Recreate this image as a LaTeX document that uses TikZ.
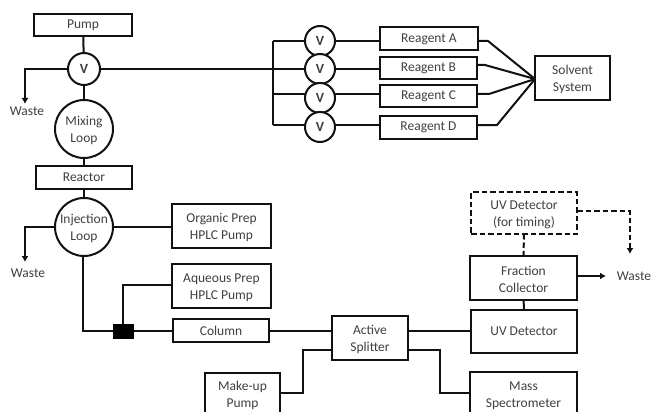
\documentclass[tikz,border=0pt]{standalone}
\usepackage{fontspec}
\setmainfont{Carlito}
\usetikzlibrary{arrows.meta,backgrounds}
\definecolor{ink}{HTML}{111111}
\definecolor{txt}{HTML}{404040}
\tikzset{
  base/.style={draw=ink,line width=2pt,fill=white,inner sep=0pt,outer sep=0pt,text=txt,align=center,font=\fontsize{13.5}{17}\selectfont},
  box/.style={base,rectangle},
  dbox/.style={base,rectangle,dash pattern=on 5.5pt off 3pt},
  valve/.style={base,circle,minimum size=30pt,font=\fontsize{14}{17}\selectfont\bfseries},
  loopc/.style={base,circle,minimum size=58pt},
  lbl/.style={text=txt,inner sep=0pt,font=\fontsize{13.5}{17}\selectfont},
  tx/.style={label={[lbl,align=center,yshift=-1.8pt]center:#1}},
  conn/.style={draw=ink,line width=2pt},
  connarrow/.style={conn,-{Latex[length=6pt,width=7pt]}},
  dconn/.style={conn,dash pattern=on 5.5pt off 3pt},
  junction/.style={draw=none,fill=black,inner sep=0pt,outer sep=0pt,minimum width=21pt,minimum height=15pt}
}
\begin{document}
\begin{tikzpicture}[x=1pt,y=-1pt]
\clip (0,0) rectangle (651,412);
% left column
\node[box,minimum width=98pt,minimum height=22pt] (pump) at (83,25) {Pump};
\node[valve,minimum size=32pt] (v0) at (84,69) {V};
\node[loopc,tx={Mixing\\Loop}] (mix) at (84,129) {};
\node[box,minimum width=96pt,minimum height=23pt] (reactor) at (84,177) {Reactor};
\node[loopc,tx={Injection\\Loop}] (inj) at (84,227) {};
\node[box,minimum width=99pt,minimum height=44pt,tx={Organic Prep\\HPLC Pump}] (org) at (221.5,226) {};
\node[box,minimum width=99pt,minimum height=44pt,tx={Aqueous Prep\\HPLC Pump}] (aq) at (221.5,286) {};
\node[box,minimum width=96pt,minimum height=23pt] (col) at (221,330.5) {Column};
\node[junction] (tee) at (123,331) {};
\node[box,minimum width=75pt,minimum height=50pt] (makeup) at (242.5,398) {};
\node[lbl,align=center] (makeupt) at (242.5,395.5) {Make-up\\Pump};
\node[box,minimum width=76pt,minimum height=44pt,tx={Active\\Splitter}] (split) at (370,338) {};
% right column
\node[dbox,minimum width=106pt,minimum height=42pt,tx={UV Detector\\(for timing)}] (uvt) at (524,213) {};
\node[box,minimum width=107pt,minimum height=44pt,tx={Fraction\\Collector}] (frac) at (523.5,278) {};
\node[box,minimum width=106pt,minimum height=43pt] (uv) at (524,331) {UV Detector};
\node[box,minimum width=107pt,minimum height=50pt] (mass) at (523.5,397) {};
\node[lbl,align=center] (masst) at (523.5,395.5) {Mass\\Spectrometer};
% reagents
\node[valve] (va) at (320,41) {V};
\node[valve] (vb) at (320,69) {V};
\node[valve] (vc) at (320,98) {V};
\node[valve] (vd) at (320,127) {V};
\node[box,minimum width=98pt,minimum height=23pt] (ra) at (429,39) {Reagent A};
\node[box,minimum width=97pt,minimum height=22pt] (rb) at (428.5,68) {\raisebox{1.5pt}{Reagent B}};
\node[box,minimum width=97pt,minimum height=22pt] (rc) at (428.5,96) {Reagent C};
\node[box,minimum width=97pt,minimum height=23pt] (rd) at (428.5,127.5) {Reagent D};
\node[box,minimum width=75pt,minimum height=44pt,tx={Solvent\\System}] (solv) at (572.5,78) {};
% waste labels
\node[lbl] (w1) at (27,111) {Waste};
\node[lbl] (w2) at (28,273) {Waste};
\node[lbl] (w3) at (634,276) {Waste};
% free coordinates
\coordinate (w1e) at (25,104);
\coordinate (w2e) at (25,262);
\coordinate (w3e) at (606,276);
\coordinate (w4e) at (630,254);
\coordinate (busa) at (273,41);
\coordinate (busb) at (273,68);
\coordinate (busc) at (273,94);
\coordinate (busd) at (273,125);
\coordinate (solvin) at (535,79);
\begin{scope}[on background layer]
\draw[conn] (pump) -- (v0);
\draw[conn] (v0) -- (mix);
\draw[conn] (mix) -- (reactor);
\draw[conn] (reactor) -- (inj);
\draw[connarrow] (v0.west) -- (25,69) -- (w1e);
\draw[connarrow] (inj.west) -- (25,227) -- (w2e);
\draw[conn] (inj.east) -- (org.west |- inj.east);
\draw[conn] (inj.south) ++(-1,0) |- (tee.west);
\draw[conn] (tee.north) |- (aq.west |- 0,285);
\draw[conn] (tee.east) -- (col.west |- tee.east);
\draw[conn] (col.east |- tee.east) -- (split.west |- tee.east);
\draw[conn] (makeup.east |- 0,393) -- (303,393) -- (303,350) -- (split.west |- 0,350);
\draw[conn] (split.east |- 0,331) -- (uv.west);
\draw[conn] (split.east |- 0,350) -- (440,350) -- (440,393) -- (mass.west |- 0,393);
\draw[conn] (frac) -- (uv);
\draw[dconn] (uvt.south) -- (frac.north);
\draw[dconn] (uvt.east |- 0,211) -- (630,211) -- (630,246);
\draw[connarrow] (630,246) -- (w4e);
\draw[connarrow] (frac.east |- w3e) -- (w3e);
% reagent manifold
\draw[conn] (v0.east) -- (vb.west);
\draw[conn] (busa) -- (busd);
\draw[conn] (busa) -- (va);
\draw[conn] (busc) -- (busc -| vc.west);
\draw[conn] (busd) -- (busd -| vd.west);
\draw[conn] (va) -- (ra.west |- va);
\draw[conn] (vb) -- (rb.west |- vb);
\draw[conn] (busc -| vc.east) -- (rc.west |- busc);
\draw[conn] (busd -| vd.east) -- (rd.west |- busd);
\draw[conn] (ra.east |- 0,41) -- (488,41) -- (solvin);
\draw[conn] (rb.east |- 0,65) -- (485,65) -- (solvin);
\draw[conn] (rc.east |- 0,94) -- (489,94) -- (solvin);
\draw[conn] (rd.east |- 0,125) -- (497,125) -- (solvin);
\end{scope}
\end{tikzpicture}
\end{document}
